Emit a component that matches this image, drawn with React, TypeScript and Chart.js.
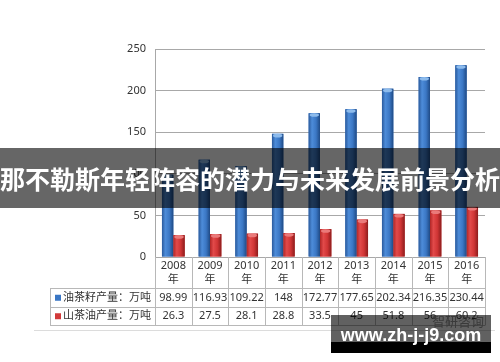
import React, { useEffect, useRef } from "react";
import { Chart, registerables } from "chart.js";

Chart.register(...registerables);

// ---- data ----
const years = ["2008", "2009", "2010", "2011", "2012", "2013", "2014", "2015", "2016"];
const yearSuffix = "年";
const seedOutput = [98.99, 116.93, 109.22, 148, 172.77, 177.65, 202.34, 216.35, 230.44];
const oilOutput = [26.3, 27.5, 28.1, 28.8, 33.5, 45, 51.8, 56, 60.2];
const seedLabel = "油茶籽产量：万吨";
const oilLabel = "山茶油产量：万吨";
const yMax = 250;
const yStep = 50;
const bannerText = "那不勒斯年轻阵容的潜力与未来发展前景分析";
const watermarkText = "www.zh-j-j9.com";
const logoText = "智研咨询";

// ---- styles ----
const FONT = "'Noto Sans', 'Noto Sans CJK SC', sans-serif";
const BLUE = "#3a76c4";
const RED = "#d23a3a";
const GRID = "#a8a8a8";
const TABLE_LINE = "#b8b8b8";
const TEXT = "#333333";
const TABLE_LEFT = 50;
const YEAR_ROW_H = 31;
const ROW_H = 18.5;

const blueStops: [number, string][] = [
  [0, "#2a5a9c"],
  [0.3, "#4d8cd9"],
  [0.65, "#3b77c4"],
  [1, "#1f4a85"],
];
const redStops: [number, string][] = [
  [0, "#b02626"],
  [0.3, "#e24a4a"],
  [0.65, "#d03535"],
  [1, "#8c1c1c"],
];

const barStylePlugin = {
  id: "barStyle",
  afterDatasetsDraw(chart: any) {
    const ctx = chart.ctx;
    chart.data.datasets.forEach((ds: any, di: number) => {
      const meta = chart.getDatasetMeta(di);
      const stops = di === 0 ? blueStops : redStops;
      const cap = di === 0 ? "#8dbbec" : "#ea7a7a";
      meta.data.forEach((bar: any) => {
        const { x, y, base, width } = bar.getProps(["x", "y", "base", "width"], true);
        const l = x - width / 2;
        const g = ctx.createLinearGradient(l, 0, l + width, 0);
        stops.forEach(([o, c]) => g.addColorStop(o, c));
        ctx.save();
        ctx.fillStyle = g;
        ctx.fillRect(l, y, width, base - y);
        ctx.fillStyle = cap;
        ctx.beginPath();
        ctx.ellipse(x, y + 1.8, width / 2 - 1, 1.8, 0, 0, Math.PI * 2);
        ctx.fill();
        ctx.restore();
      });
    });
  },
};

const tablePlugin = {
  id: "dataTable",
  afterDraw(chart: any) {
    const { ctx, chartArea } = chart;
    const xs = chart.scales.x;
    const left = chartArea.left;
    const right = chartArea.right;
    const bottom = chartArea.bottom;
    const n = years.length;
    const catW = (right - left) / n;
    const r1Top = bottom + YEAR_ROW_H;
    const r2Top = r1Top + ROW_H;
    const r2Bot = r2Top + ROW_H;
    ctx.save();
    ctx.strokeStyle = TABLE_LINE;
    ctx.lineWidth = 1;
    ctx.beginPath();
    [r1Top, r2Top, r2Bot].forEach((yy) => {
      const py = Math.round(yy) + 0.5;
      ctx.moveTo(TABLE_LEFT, py);
      ctx.lineTo(right, py);
    });
    for (let i = 0; i <= n; i++) {
      const px = Math.round(left + i * catW) + 0.5;
      ctx.moveTo(px, bottom);
      ctx.lineTo(px, Math.round(r2Bot) + 0.5);
    }
    ctx.moveTo(TABLE_LEFT + 0.5, Math.round(r1Top) + 0.5);
    ctx.lineTo(TABLE_LEFT + 0.5, Math.round(r2Bot) + 0.5);
    ctx.stroke();

    // year header cells
    ctx.fillStyle = TEXT;
    ctx.font = `11px ${FONT}`;
    ctx.textBaseline = "middle";
    ctx.textAlign = "center";
    years.forEach((yr, i) => {
      const cx = xs.getPixelForValue(i);
      ctx.fillText(yr, cx, bottom + 8.5);
      ctx.fillText(yearSuffix, cx, bottom + 22.5);
    });

    const rows = [
      { label: seedLabel, values: seedOutput, color: BLUE },
      { label: oilLabel, values: oilOutput, color: RED },
    ];
    rows.forEach((row, ri) => {
      const cy = r1Top + ROW_H * ri + ROW_H / 2 + 0.5;
      ctx.fillStyle = row.color;
      ctx.fillRect(TABLE_LEFT + 5, cy - 3, 6, 6);
      ctx.fillStyle = TEXT;
      ctx.font = `11px ${FONT}`;
      ctx.textBaseline = "middle";
      ctx.textAlign = "left";
      ctx.fillText(row.label, TABLE_LEFT + 13, cy);
      ctx.textAlign = "center";
      row.values.forEach((v, i) => {
        ctx.fillText(String(v), xs.getPixelForValue(i), cy);
      });
    });
    ctx.restore();
  },
};

export default function App() {
  const canvasRef = useRef<HTMLCanvasElement | null>(null);

  useEffect(() => {
    if (!canvasRef.current) return;
    const chart = new Chart(canvasRef.current, {
      type: "bar",
      data: {
        labels: years,
        datasets: [
          { label: seedLabel, data: seedOutput, backgroundColor: BLUE, borderWidth: 0 },
          { label: oilLabel, data: oilOutput, backgroundColor: RED, borderWidth: 0 },
        ],
      },
      options: {
        responsive: true,
        maintainAspectRatio: false,
        animation: false,
        events: [],
        layout: { padding: { top: 49, right: 15, bottom: 0, left: 0 } },
        datasets: { bar: { categoryPercentage: 0.62, barPercentage: 1 } },
        plugins: { legend: { display: false }, tooltip: { enabled: false }, title: { display: false } },
        scales: {
          x: {
            grid: { display: false },
            border: { display: true, color: GRID },
            ticks: { display: false },
            afterFit: (s: any) => {
              s.height = 105;
            },
          },
          y: {
            min: 0,
            max: yMax,
            ticks: { stepSize: yStep, padding: 9, color: TEXT, font: { size: 11, family: FONT } },
            grid: { color: GRID, drawTicks: false },
            border: { display: true, color: GRID },
            afterFit: (s: any) => {
              s.width = 155;
            },
          },
        },
      },
      plugins: [barStylePlugin, tablePlugin],
    });
    return () => chart.destroy();
  }, []);

  return (
    <div style={{ position: "fixed", left: 0, top: 0, width: 500, height: 362, background: "#fff", overflow: "hidden" }}>
      <canvas ref={canvasRef} />
      <div
        style={{
          position: "absolute",
          left: 34,
          top: 330,
          width: 461,
          height: 0,
          borderTop: "1px solid #dcdcdc",
        }}
      />
      <div
        style={{
          position: "absolute",
          left: 432,
          top: 311,
          fontFamily: FONT,
          fontSize: 13,
          color: "#9a9a9a",
          whiteSpace: "nowrap",
        }}
      >
        {logoText}
      </div>
      <div
        style={{
          position: "absolute",
          left: 0,
          top: 148,
          width: 500,
          height: 60,
          background: "rgba(0,0,0,0.6)",
          color: "#fff",
          fontFamily: "'Noto Sans CJK SC', sans-serif",
          fontWeight: 700,
          fontSize: 25,
          lineHeight: "60px",
          textAlign: "center",
          whiteSpace: "nowrap",
          overflow: "hidden",
        }}
      >
        {bannerText}
      </div>
      <div
        style={{
          position: "absolute",
          left: 331,
          top: 315,
          width: 160,
          height: 27,
          background: "rgba(0,0,0,0.62)",
        }}
      />
      <div style={{ position: "absolute", left: 331, top: 342, width: 160, height: 11, background: "#000" }} />
      <div
        style={{
          position: "absolute",
          left: 331,
          top: 322,
          width: 160,
          height: 26,
          lineHeight: "26px",
          textAlign: "center",
          color: "#fff",
          fontFamily: "'Liberation Sans', Arial, sans-serif",
          fontWeight: 700,
          fontSize: 18,
          whiteSpace: "nowrap",
        }}
      >
        {watermarkText}
      </div>
    </div>
  );
}
